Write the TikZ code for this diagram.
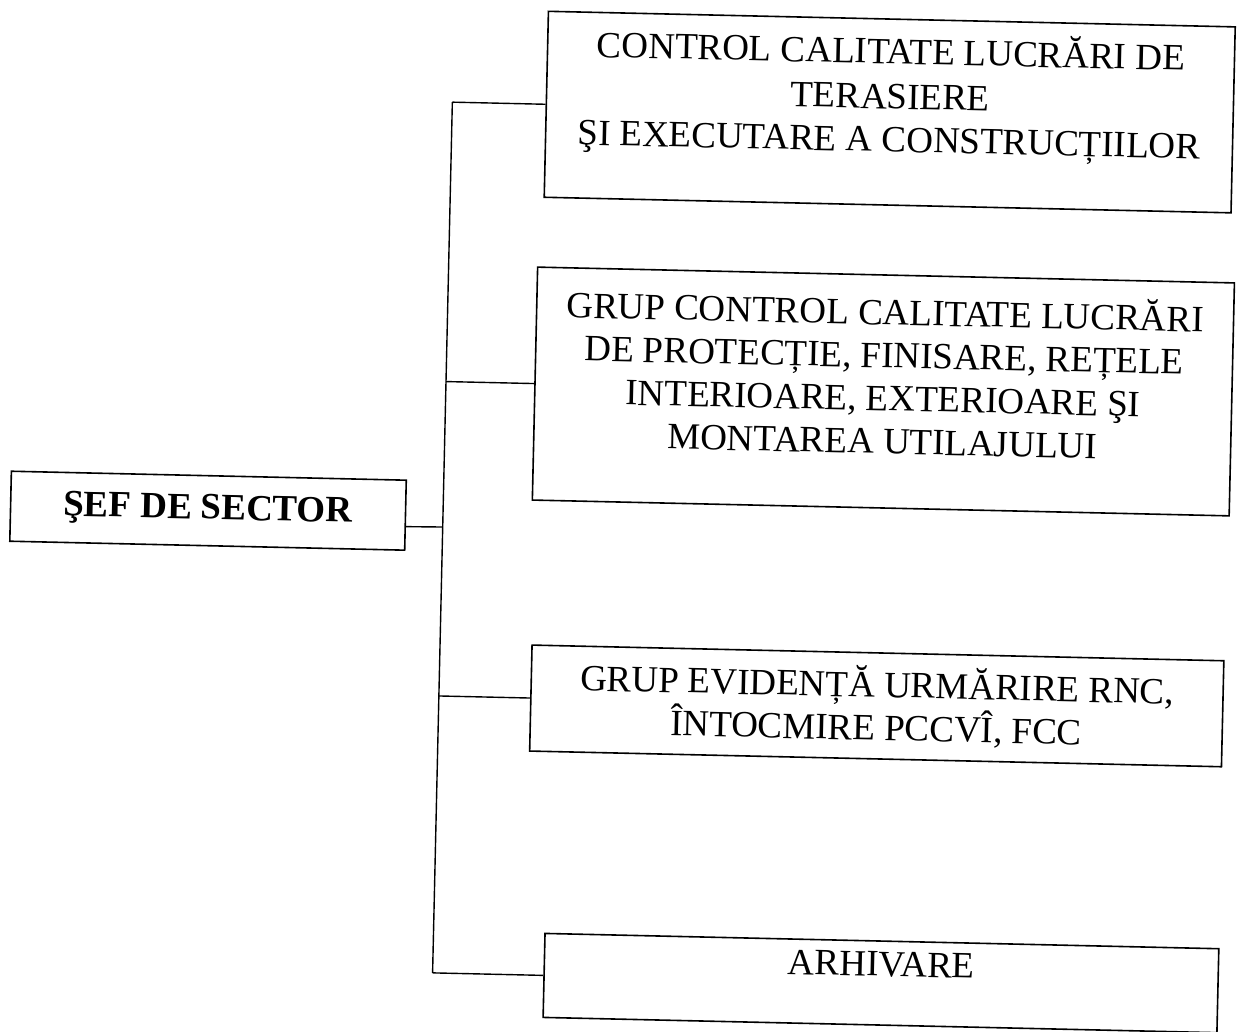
\documentclass[tikz,border=0pt]{standalone}
\usepackage{fontspec}
\setmainfont{Liberation Serif}
\usetikzlibrary{positioning,calc}

\tikzset{
  box/.style={draw, rectangle, line width=1.6pt, inner sep=0pt, align=center, font=\fontsize{37}{43}\selectfont},
  link/.style={line width=1.4pt}
}

\begin{document}
\begin{tikzpicture}[x=1pt,y=-1pt]
            \useasboundingbox (0,0) rectangle (1237,1032);
            % the scanned sheet is slightly skewed
            \begin{scope}[rotate around={-1.3:(618,516)}, transform shape]
            \draw (208,520) node[box, minimum width=395, minimum height=70, font=\fontsize{37}{41}\selectfont\bfseries]                 (sef) {ŞEF DE SECTOR};
            \draw (880.5,106) node[box, minimum width=687, minimum height=186, text depth=40pt]      (ctrl) {CONTROL CALITATE LUCRĂRI DE\\[2pt] TERASIERE\\ ŞI EXECUTARE A CONSTRUCȚIILOR};
            \draw (880.5,385.5) node[box, minimum width=697, minimum height=233, text depth=36pt]     (grup) {GRUP CONTROL CALITATE LUCRĂRI\\ DE PROTECȚIE, FINISARE, REȚELE\\ INTERIOARE, EXTERIOARE ŞI\\ MONTAREA UTILAJULUI};
            \draw (881,700) node[box, minimum width=692, minimum height=106]      (evid) {GRUP EVIDENȚĂ URMĂRIRE RNC,\\ ÎNTOCMIRE PCCVÎ, FCC};
            \draw (891.5,977) node[box, minimum width=674, minimum height=84, text depth=38pt]      (arh) {ARHIVARE};
            \coordinate (j0) at (443,531);
            \coordinate (j1) at (443,106);
            \coordinate (j2) at (443,385.5);
            \coordinate (j3) at (443,700);
            \coordinate (j4) at (443,977);
            \draw[link] (j1) -- (j4);
            \draw[link] ($(sef.north east)!0.66!(sef.south east)$) -- (j0);
            \draw[link] (j1) -- (ctrl.west);
            \draw[link] (j2) -- (grup.west);
            \draw[link] (j3) -- (evid.west);
            \draw[link] (j4) -- (arh.west);
            \end{scope}

            \end{tikzpicture}
\end{document}
